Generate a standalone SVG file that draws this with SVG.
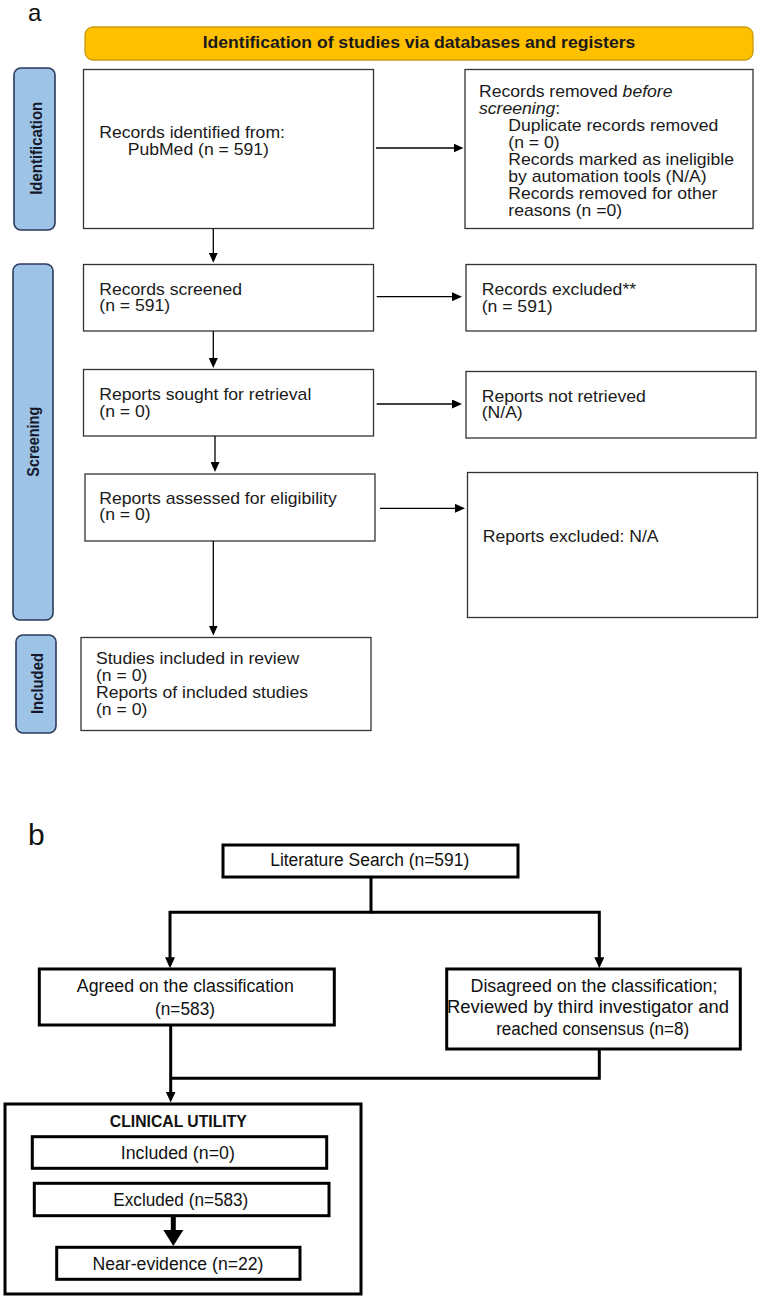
<svg xmlns="http://www.w3.org/2000/svg" width="762" height="1299" viewBox="0 0 762 1299">
<style>
.bg{fill:#fff}
.ta{font-family:"Liberation Sans",Arial,sans-serif;font-size:16px;fill:#1a1a1a}
.hd{font-family:"Liberation Sans",Arial,sans-serif;font-size:16px;font-weight:bold;fill:#1a1a1a}
.side{font-family:"Liberation Sans",Arial,sans-serif;font-size:17px;font-weight:bold;fill:#15192b}
.tb{font-family:"Liberation Sans",Arial,sans-serif;font-size:18px;fill:#111}
.tbb{font-family:"Liberation Sans",Arial,sans-serif;font-size:16.5px;font-weight:bold;fill:#111}
.pl{font-family:"Liberation Sans",Arial,sans-serif;fill:#111}
.boxa{fill:#fff;stroke:#333;stroke-width:1.3}
.sbar{fill:#9dc3e6;stroke:#2c3a5c;stroke-width:1.6}
.boxb{fill:#fff;stroke:#000;stroke-width:3}
.ca{fill:none;stroke:#000;stroke-width:1.3}
.cb{fill:none;stroke:#000;stroke-width:3;stroke-linejoin:miter}
</style>
<defs>
<marker id="mA" viewBox="0 0 10 9" refX="7" refY="4.5" markerWidth="10" markerHeight="9" markerUnits="userSpaceOnUse" orient="auto"><path d="M0,0 L10,4.5 L0,9 z" fill="#000"/></marker>
<marker id="mB" viewBox="0 0 11 10" refX="6" refY="5" markerWidth="11" markerHeight="10" markerUnits="userSpaceOnUse" orient="auto"><path d="M0,0 L11,5 L0,10 z" fill="#000"/></marker>
<marker id="mBig" viewBox="0 0 16 20" refX="0" refY="10" markerWidth="16" markerHeight="20" markerUnits="userSpaceOnUse" orient="auto"><path d="M0,0 L16,10 L0,20 z" fill="#000"/></marker>
</defs>
<rect class="bg" x="0" y="0" width="762" height="1299"/>

<text class="pl" x="28" y="21" font-size="24">a</text>
<text class="pl" x="28" y="845" font-size="30">b</text>

<g id="header">
<rect x="85" y="27" width="668" height="33" rx="8" fill="#ffc000" stroke="#c99a12" stroke-width="1.3"/>
<text class="hd" text-anchor="middle" transform="translate(419 48) scale(1.1 1)">Identification of studies via databases and registers</text>
</g>

<g id="lane-identification">
<rect class="sbar" x="14" y="68" width="41" height="162" rx="7"/>
<text class="side" text-anchor="middle" textLength="93" lengthAdjust="spacingAndGlyphs" transform="translate(41.5 148.3) rotate(-90)">Identification</text>
</g>
<g id="lane-screening">
<rect class="sbar" x="13" y="264" width="40" height="356" rx="7"/>
<text class="side" text-anchor="middle" textLength="70" lengthAdjust="spacingAndGlyphs" transform="translate(39 441.7) rotate(-90)">Screening</text>
</g>
<g id="lane-included">
<rect class="sbar" x="16" y="635" width="40" height="98" rx="7"/>
<text class="side" text-anchor="middle" textLength="61" lengthAdjust="spacingAndGlyphs" transform="translate(42.5 683.5) rotate(-90)">Included</text>
</g>

<g id="records-identified">
<rect class="boxa" x="83.5" y="69.5" width="290" height="159"/>
<text class="ta" transform="translate(99.3 137.7) scale(1.1 1)">Records identified from:</text>
<text class="ta" transform="translate(127.7 155) scale(1.1 1)">PubMed (n = 591)</text>
</g>

<g id="records-removed">
<rect class="boxa" x="465" y="69.5" width="288" height="159"/>
<text class="ta" transform="translate(479 96.5) scale(1.1 1)">Records removed <tspan font-style="italic">before</tspan></text>
<text class="ta" transform="translate(479 113.6) scale(1.1 1)"><tspan font-style="italic">screening</tspan>:</text>
<text class="ta" transform="translate(508.3 130.7) scale(1.1 1)">Duplicate records removed</text>
<text class="ta" transform="translate(508.3 147.8) scale(1.1 1)">(n = 0)</text>
<text class="ta" transform="translate(508.3 164.9) scale(1.1 1)">Records marked as ineligible</text>
<text class="ta" transform="translate(508.3 182) scale(1.1 1)">by automation tools (N/A)</text>
<text class="ta" transform="translate(508.3 199.1) scale(1.1 1)">Records removed for other</text>
<text class="ta" transform="translate(508.3 216.2) scale(1.1 1)">reasons (n =0)</text>
</g>

<g id="records-screened">
<rect class="boxa" x="83.5" y="264.5" width="290" height="66.5"/>
<text class="ta" transform="translate(99.3 295) scale(1.1 1)">Records screened</text>
<text class="ta" transform="translate(99.3 311) scale(1.1 1)">(n = 591)</text>
</g>

<g id="records-excluded">
<rect class="boxa" x="466" y="264.5" width="290" height="66.5"/>
<text class="ta" transform="translate(481.7 295) scale(1.1 1)">Records excluded**</text>
<text class="ta" transform="translate(481.7 311.7) scale(1.1 1)">(n = 591)</text>
</g>

<g id="reports-sought">
<rect class="boxa" x="83.5" y="369.5" width="290" height="66.5"/>
<text class="ta" transform="translate(99.3 400) scale(1.1 1)">Reports sought for retrieval</text>
<text class="ta" transform="translate(99.3 416.7) scale(1.1 1)">(n = 0)</text>
</g>

<g id="reports-not-retrieved">
<rect class="boxa" x="466" y="371.5" width="290" height="66.5"/>
<text class="ta" transform="translate(481.7 401.7) scale(1.1 1)">Reports not retrieved</text>
<text class="ta" transform="translate(481.7 418.3) scale(1.1 1)">(N/A)</text>
</g>

<g id="reports-assessed">
<rect class="boxa" x="85" y="474" width="290" height="67"/>
<text class="ta" transform="translate(99.3 504) scale(1.1 1)">Reports assessed for eligibility</text>
<text class="ta" transform="translate(99.3 520) scale(1.1 1)">(n = 0)</text>
</g>

<g id="reports-excluded">
<rect class="boxa" x="467.5" y="472.5" width="290" height="145"/>
<text class="ta" transform="translate(482.7 542.3) scale(1.1 1)">Reports excluded: N/A</text>
</g>

<g id="studies-included">
<rect class="boxa" x="81" y="637.5" width="290" height="93"/>
<text class="ta" transform="translate(96 664.3) scale(1.1 1)">Studies included in review</text>
<text class="ta" transform="translate(96 681.3) scale(1.1 1)">(n = 0)</text>
<text class="ta" transform="translate(96 698.3) scale(1.1 1)">Reports of included studies</text>
<text class="ta" transform="translate(96 715.3) scale(1.1 1)">(n = 0)</text>
</g>

<g id="literature-search">
<rect class="boxb" x="223" y="845" width="295" height="32"/>
<text class="tb" x="369.7" y="866" text-anchor="middle" textLength="199" lengthAdjust="spacingAndGlyphs">Literature Search (n=591)</text>
</g>

<g id="agreed">
<rect class="boxb" x="39.3" y="969" width="295" height="56"/>
<text class="tb" x="185.3" y="991.7" text-anchor="middle" textLength="217" lengthAdjust="spacingAndGlyphs">Agreed on the classification</text>
<text class="tb" x="185" y="1015" text-anchor="middle" textLength="60" lengthAdjust="spacingAndGlyphs">(n=583)</text>
</g>

<g id="disagreed">
<rect class="boxb" x="446.7" y="969" width="293.6" height="80"/>
<text class="tb" x="594" y="991.7" text-anchor="middle" textLength="247" lengthAdjust="spacingAndGlyphs">Disagreed on the classification;</text>
<text class="tb" x="588" y="1013.3" text-anchor="middle" textLength="282" lengthAdjust="spacingAndGlyphs">Reviewed by third investigator and</text>
<text class="tb" x="592.7" y="1035" text-anchor="middle" textLength="193" lengthAdjust="spacingAndGlyphs">reached consensus (n=8)</text>
</g>

<g id="clinical-utility">
<rect class="boxb" x="5" y="1104" width="356" height="190"/>
<text class="tbb" x="178.3" y="1126.7" text-anchor="middle" textLength="137" lengthAdjust="spacingAndGlyphs">CLINICAL UTILITY</text>
</g>
<g id="cu-included">
<rect class="boxb" x="32.3" y="1136.7" width="294.4" height="31.6"/>
<text class="tb" x="177.8" y="1159.3" text-anchor="middle" textLength="114" lengthAdjust="spacingAndGlyphs">Included (n=0)</text>
</g>
<g id="cu-excluded">
<rect class="boxb" x="34.3" y="1183.3" width="294.7" height="32.4"/>
<text class="tb" x="180.8" y="1206" text-anchor="middle" textLength="135" lengthAdjust="spacingAndGlyphs">Excluded (n=583)</text>
</g>
<g id="cu-near-evidence">
<rect class="boxb" x="56.7" y="1247.3" width="243.3" height="32"/>
<text class="tb" x="178" y="1270" text-anchor="middle" textLength="171" lengthAdjust="spacingAndGlyphs">Near-evidence (n=22)</text>
</g>

<g id="connectors">
<line class="ca" x1="213.3" y1="228.5" x2="213.3" y2="259.7" marker-end="url(#mA)"/>
<line class="ca" x1="213.3" y1="331" x2="213.3" y2="365" marker-end="url(#mA)"/>
<line class="ca" x1="215" y1="436" x2="215" y2="469" marker-end="url(#mA)"/>
<line class="ca" x1="213.3" y1="541" x2="213.3" y2="632.5" marker-end="url(#mA)"/>
<line class="ca" x1="376" y1="148" x2="460.5" y2="148" marker-end="url(#mA)"/>
<line class="ca" x1="376.7" y1="296.7" x2="459" y2="296.7" marker-end="url(#mA)"/>
<line class="ca" x1="376.7" y1="404" x2="459" y2="404" marker-end="url(#mA)"/>
<line class="ca" x1="380" y1="508.3" x2="462" y2="508.3" marker-end="url(#mA)"/>

<path class="cb" d="M371,877 V912.3 H170 V963.3" marker-end="url(#mB)"/>
<path class="cb" d="M371,912.3 H599.3 V963.3" marker-end="url(#mB)"/>
<path class="cb" d="M599.3,1049 V1078.3 H170.7"/>
<path class="cb" d="M170.7,1025 V1097.5" marker-end="url(#mB)"/>
<line x1="173.3" y1="1217" x2="173.3" y2="1230" stroke="#000" stroke-width="5" marker-end="url(#mBig)"/>
</g>
</svg>
